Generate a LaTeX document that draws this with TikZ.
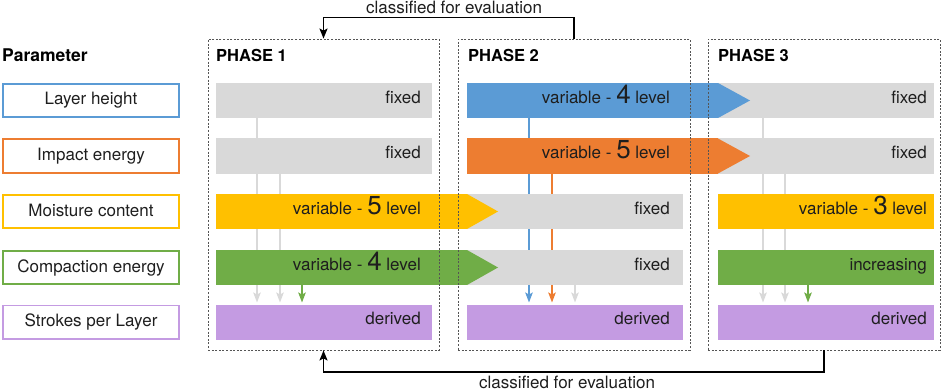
\documentclass[tikz,border=0pt]{standalone}
\usepackage{fontspec}
\setmainfont{TeX Gyre Heros}
\usetikzlibrary{arrows.meta,calc}
\definecolor{cBlue}{HTML}{5B9BD5}
\definecolor{cOrange}{HTML}{ED7D31}
\definecolor{cYellow}{HTML}{FFC000}
\definecolor{cGreen}{HTML}{70AD47}
\definecolor{cPurple}{HTML}{C49BE2}
\definecolor{cGray}{HTML}{D9D9D9}
\definecolor{cText}{HTML}{1E1E1E}
\definecolor{cDash}{HTML}{555555}
\newcommand\bignum[1]{{\fontsize{26}{26}\selectfont #1}}
\pgfdeclarelayer{bg}
\pgfsetlayers{bg,main}
\begin{document}
\begin{tikzpicture}[x=1pt,y=-1pt,
  txt/.style={font=\fontsize{17}{20}\selectfont, text=cText, inner sep=0pt},
  hdr/.style={font=\fontsize{16.5}{20}\selectfont\bfseries, text=black, inner sep=0pt},
  bar/.style={minimum width=216pt, minimum height=35pt, inner sep=0pt, outer sep=0pt, anchor=west},
  arrbar/.style={bar, minimum width=251pt},
  pbox/.style={draw, line width=1.8pt, minimum width=176.2pt, minimum height=33.2pt, inner sep=0pt,
    text height=12.5pt, text depth=3.5pt, font=\fontsize{17}{20}\selectfont, text=cText},
  phasebox/.style={draw=cDash, dash pattern=on 2pt off 1.6pt, line width=0.9pt, inner sep=0pt,
    minimum height=311pt},
  vline/.style={line width=1.4pt, -{Stealth[length=10pt,width=7.5pt,inset=2pt]}, shorten >=2pt},
  conn/.style={line width=1.4pt, draw=black, -{Stealth[length=10pt,width=8pt,inset=2pt]}}
]
\useasboundingbox (0,0) rectangle (941,390);

% parameter column
\node[hdr, font=\fontsize{17.5}{20}\selectfont\bfseries, anchor=base west] (param) at (2,61.5) {Parameter};
\node[pbox, draw=cBlue]   (pLH) at (91,100.5) {Layer height};
\node[pbox, draw=cOrange] (pIE) at (91,156)   {Impact energy};
\node[pbox, draw=cYellow] (pMC) at (91,211.5) {Moisture content};
\node[pbox, draw=cGreen]  (pCE) at (91,267.5) {Compaction energy};
\node[pbox, draw=cPurple] (pSL) at (91,322)   {Strokes per Layer};

% plain bars
\node[bar, fill=cGray] (g11) at (216,100.5) {};
\node[bar, fill=cGray] (g12) at (216,156) {};
\node[bar, fill=cGray] (g23) at (467,211.5) {};
\node[bar, fill=cGray] (g24) at (467,267.5) {};
\node[bar, fill=cGray] (g31) at (718,100.5) {};
\node[bar, fill=cGray] (g32) at (718,156) {};
\node[bar, fill=cYellow] (y33) at (718,211.5) {};
\node[bar, fill=cGreen] (g34) at (718,267.5) {};
\node[bar, fill=cPurple] (d1) at (216,322) {};
\node[bar, fill=cPurple] (d2) at (467,322) {};
\node[bar, fill=cPurple] (d3) at (718,322) {};

% arrow bars
\node[arrbar, fill=cYellow] (a13) at (216,211.5) {};
\fill[cYellow] (a13.north east) -- ([xshift=31pt]a13.east) -- (a13.south east) -- cycle;
\node[arrbar, fill=cGreen] (a14) at (216,267.5) {};
\fill[cGreen] (a14.north east) -- ([xshift=31pt]a14.east) -- (a14.south east) -- cycle;
\node[arrbar, fill=cBlue] (a21) at (467,100.5) {};
\fill[cBlue] (a21.north east) -- ([xshift=32pt]a21.east) -- (a21.south east) -- cycle;
\node[arrbar, fill=cOrange] (a22) at (467,156) {};
\fill[cOrange] (a22.north east) -- ([xshift=32pt]a22.east) -- (a22.south east) -- cycle;

% labels
\node[txt, anchor=mid east] (t11) at (421,100.5) {fixed};
\node[txt, anchor=mid east] (t12) at (421,156) {fixed};
\node[txt, anchor=mid east] (t13) at (421,211.5) {variable - \bignum{5} level};
\node[txt, anchor=mid east] (t14) at (421,267.5) {variable - \bignum{4} level};
\node[txt, anchor=mid east] (t15) at (421,322) {derived};
\node[txt, anchor=mid east] (t21) at (670,100.5) {variable - \bignum{4} level};
\node[txt, anchor=mid east] (t22) at (670,156) {variable - \bignum{5} level};
\node[txt, anchor=mid east] (t23) at (670,211.5) {fixed};
\node[txt, anchor=mid east] (t24) at (670,267.5) {fixed};
\node[txt, anchor=mid east] (t25) at (670,322) {derived};
\node[txt, anchor=mid east] (t31) at (927,100.5) {fixed};
\node[txt, anchor=mid east] (t32) at (927,156) {fixed};
\node[txt, anchor=mid east] (t33) at (927,211.5) {variable - \bignum{3} level};
\node[txt, anchor=mid east] (t34) at (927,267.5) {increasing};
\node[txt, anchor=mid east] (t35) at (927,322) {derived};

% vertical connectors (behind bars)
\begin{pgfonlayer}{bg}
\draw[vline, cGray]  ([xshift=41pt]g11.south west) -- ([xshift=41pt]d1.north west);
\draw[vline, cGray]  ([xshift=64pt]g12.south west) -- ([xshift=64pt]d1.north west);
\draw[vline, cGreen] ([xshift=86pt]a14.south west) -- ([xshift=86pt]d1.north west);
\draw[vline, cBlue]   ([xshift=62pt]a21.south west) -- ([xshift=62pt]d2.north west);
\draw[vline, cOrange] ([xshift=85pt]a22.south west) -- ([xshift=85pt]d2.north west);
\draw[vline, cGray]   ([xshift=108pt]g24.south west) -- ([xshift=108pt]d2.north west);
\draw[vline, cGray]  ([xshift=45pt]g31.south west) -- ([xshift=45pt]d3.north west);
\draw[vline, cGray]  ([xshift=67pt]g32.south west) -- ([xshift=67pt]d3.north west);
\draw[vline, cGreen] ([xshift=90pt]g34.south west) -- ([xshift=90pt]d3.north west);
\end{pgfonlayer}

% phase boxes
\node[phasebox, minimum width=231pt] (ph1) at (323.5,194.5) {};
\node[phasebox, minimum width=232pt] (ph2) at (574,194.5) {};
\node[phasebox, minimum width=232pt] (ph3) at (824,194.5) {};
\node[hdr, anchor=base west] (h1) at (216,61.5) {PHASE 1};
\node[hdr, anchor=base west] (h2) at (468,61.5) {PHASE 2};
\node[hdr, anchor=base west] (h3) at (718,61.5) {PHASE 3};

% feedback connectors
\coordinate (ctop) at (323.5,17.5);
\coordinate (cbot) at (323.5,372);
\draw[conn] (ph2.north) |- (ctop) -- (ph1.north);
\draw[conn] (ph3.south) |- (cbot) -- (ph1.south);
\node[txt, anchor=base] (ltop) at (454,14) {classified for evaluation};
\node[txt, anchor=base] (lbot) at (567,388) {classified for evaluation};
\end{tikzpicture}
\end{document}
